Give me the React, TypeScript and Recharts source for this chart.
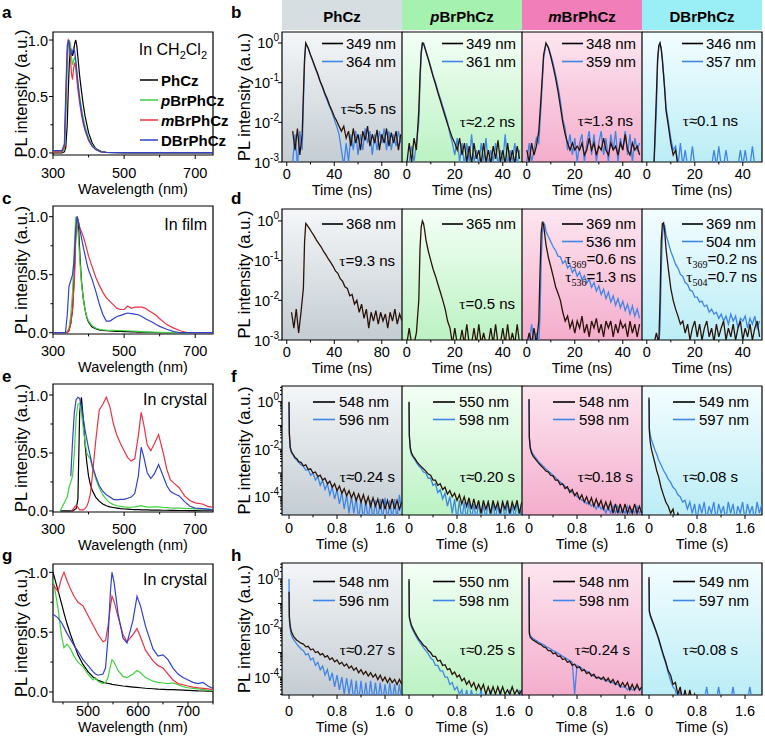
import React from 'react';
import { LineChart, Line, XAxis, YAxis, ReferenceArea } from 'recharts';

const SANS = '"Liberation Sans", Arial, Helvetica, sans-serif';
const SERIF = '"Liberation Serif", "Times New Roman", Times, serif';
const FS = 14.5;
const LFS = 15;
const YFS = 16.5;

// ---------------- categories / styles ----------------
const COMPOUNDS = ['PhCz', 'pBrPhCz', 'mBrPhCz', 'DBrPhCz'];
const SPEC_COLORS = ['#000000', '#3ed23e', '#eb3146', '#3242cc'];
const DECAY_BLACK = '#2a1308';
const DECAY_BLUE = '#3f86e6';
const HEADER_BG = ['#d7dee1', '#a5f1af', '#f17db9', '#9aeff7'];
const GRADS = [
  ['#f4f6f8', '#c4cdd3'],
  ['#f4fff6', '#bbf2c3'],
  ['#fde6f0', '#f4adcc'],
  ['#f3fdff', '#bbedf6'],
];

// ---------------- panel a (CH2Cl2) ----------------
const WL_A = [300, 325, 332, 336, 340, 343, 346, 349, 352, 355, 358, 361, 364, 367, 370, 375, 380, 385, 390, 400, 410, 420, 435, 450, 500, 600, 750];
const A_PHCZ = [0, 0, 0.01, 0.05, 0.25, 0.55, 0.8, 0.93, 0.9, 0.86, 0.9, 0.97, 1.0, 0.95, 0.85, 0.68, 0.55, 0.43, 0.33, 0.18, 0.09, 0.04, 0.015, 0.005, 0, 0, 0];
const A_PBR = [0.01, 0.01, 0.03, 0.3, 0.75, 0.95, 1.0, 0.97, 0.85, 0.78, 0.82, 0.85, 0.8, 0.72, 0.63, 0.5, 0.4, 0.31, 0.24, 0.13, 0.07, 0.035, 0.012, 0.005, 0.002, 0.002, 0.002];
const A_MBR = [0.01, 0.01, 0.05, 0.45, 0.88, 1.0, 0.98, 0.85, 0.7, 0.65, 0.75, 0.8, 0.75, 0.65, 0.56, 0.44, 0.34, 0.26, 0.2, 0.11, 0.06, 0.03, 0.01, 0.004, 0.002, 0.002, 0.002];
const A_DBR = [0.02, 0.02, 0.08, 0.55, 0.95, 1.0, 0.95, 0.88, 0.87, 0.9, 0.93, 0.9, 0.82, 0.72, 0.62, 0.48, 0.37, 0.28, 0.21, 0.12, 0.06, 0.03, 0.01, 0.004, 0.003, 0.003, 0.003];

// ---------------- panel c (film) ----------------
const WL_C = [300, 335, 340, 345, 350, 355, 360, 364, 368, 372, 376, 380, 385, 390, 395, 400, 410, 420, 430, 440, 450, 460, 470, 480, 490, 500, 510, 520, 530, 540, 550, 560, 570, 580, 590, 600, 620, 640, 660, 680, 700, 750];
const C_PHCZ = [0, 0, 0, 0.02, 0.08, 0.2, 0.5, 0.85, 1.0, 0.9, 0.65, 0.45, 0.3, 0.2, 0.13, 0.09, 0.05, 0.035, 0.025, 0.02, 0.017, 0.015, 0.013, 0.012, 0.011, 0.01, 0.009, 0.008, 0.007, 0.006, 0.005, 0.004, 0.003, 0.002, 0.002, 0.001, 0, 0, 0, 0, 0, 0];
const C_PBR = [0, 0, 0.01, 0.04, 0.15, 0.35, 0.75, 1.0, 0.95, 0.8, 0.6, 0.43, 0.3, 0.2, 0.14, 0.1, 0.06, 0.04, 0.03, 0.025, 0.022, 0.02, 0.02, 0.019, 0.018, 0.017, 0.016, 0.015, 0.014, 0.012, 0.01, 0.008, 0.006, 0.005, 0.004, 0.003, 0.002, 0.001, 0, 0, 0, 0];
const C_MBR = [0, 0, 0, 0.02, 0.08, 0.2, 0.45, 0.8, 1.0, 0.95, 0.9, 0.87, 0.83, 0.78, 0.72, 0.66, 0.57, 0.48, 0.41, 0.35, 0.3, 0.27, 0.24, 0.21, 0.2, 0.2, 0.23, 0.21, 0.22, 0.22, 0.22, 0.21, 0.19, 0.17, 0.15, 0.12, 0.07, 0.04, 0.015, 0, 0, 0];
const C_DBR = [0, 0, 0.15, 0.4, 0.45, 0.5, 0.65, 0.9, 1.0, 0.95, 0.88, 0.82, 0.74, 0.67, 0.6, 0.54, 0.46, 0.36, 0.25, 0.16, 0.1, 0.1, 0.12, 0.14, 0.15, 0.16, 0.17, 0.165, 0.16, 0.155, 0.14, 0.12, 0.105, 0.09, 0.07, 0.055, 0.03, 0.01, 0, 0, 0, 0];

// ---------------- panel e (crystal) ----------------
const WL_E = [320, 340, 345, 350, 355, 360, 365, 370, 375, 380, 385, 390, 395, 400, 405, 410, 420, 430, 440, 450, 460, 470, 480, 490, 500, 510, 520, 530, 540, 548, 555, 565, 575, 585, 597, 610, 620, 630, 640, 655, 670, 685, 700, 720, 735, 750];
const E_PHCZ = [0, 0, 0, 0, 0, 0.01, 0.02, 0.1, 0.85, 0.98, 0.8, 0.58, 0.42, 0.3, 0.23, 0.18, 0.12, 0.085, 0.06, 0.045, 0.035, 0.03, 0.025, 0.02, 0.017, 0.015, 0.013, 0.012, 0.011, 0.01, 0.01, 0.009, 0.008, 0.007, 0.007, 0.006, 0.006, 0.005, 0.005, 0.004, 0.004, 0.003, 0.003, 0.002, 0.002, 0.002];
const E_PBR = [0, 0.12, 0.2, 0.25, 0.3, 0.5, 0.8, 0.92, 0.93, 0.85, 0.72, 0.6, 0.5, 0.47, 0.45, 0.38, 0.28, 0.2, 0.14, 0.1, 0.07, 0.055, 0.045, 0.04, 0.035, 0.033, 0.032, 0.035, 0.04, 0.045, 0.04, 0.035, 0.033, 0.035, 0.035, 0.03, 0.028, 0.026, 0.025, 0.024, 0.022, 0.02, 0.018, 0.015, 0.013, 0.012];
const E_MBR = [null, null, null, 0, 0.01, 0.03, 0.05, 0.03, 0.01, 0.01, 0.01, 0.02, 0.04, 0.08, 0.15, 0.28, 0.6, 0.87, 0.92, 0.98, 0.9, 0.75, 0.65, 0.58, 0.52, 0.46, 0.43, 0.45, 0.65, 0.85, 0.75, 0.57, 0.52, 0.58, 0.66, 0.5, 0.36, 0.27, 0.24, 0.2, 0.13, 0.09, 0.07, 0.06, 0.04, 0.03];
const E_DBR = [null, null, null, 0.3, 0.6, 0.85, 0.96, 0.98, 0.97, 0.9, 0.8, 0.7, 0.62, 0.54, 0.47, 0.4, 0.3, 0.22, 0.17, 0.14, 0.12, 0.1, 0.095, 0.1, 0.1, 0.11, 0.12, 0.15, 0.3, 0.55, 0.47, 0.33, 0.28, 0.32, 0.4, 0.3, 0.22, 0.17, 0.15, 0.13, 0.08, 0.04, 0.025, 0.02, 0.015, 0.01];

// ---------------- panel g (crystal, long wavelength) ----------------
const WL_G = [430, 440, 447, 452, 458, 465, 472, 480, 490, 500, 510, 515, 520, 530, 535, 540, 545, 548, 552, 560, 570, 578, 590, 598, 605, 615, 630, 640, 650, 660, 670, 680, 690, 700, 710, 720, 730, 740, 750];
const G_PHCZ = [1.0, 0.85, 0.74, 0.66, 0.57, 0.48, 0.4, 0.31, 0.23, 0.17, 0.125, 0.11, 0.097, 0.082, 0.076, 0.071, 0.067, 0.064, 0.061, 0.056, 0.05, 0.046, 0.041, 0.038, 0.035, 0.031, 0.027, 0.024, 0.022, 0.02, 0.019, 0.017, 0.015, 0.013, 0.011, 0.009, 0.008, 0.007, 0.006];
const G_PBR = [0.95, 0.7, 0.47, 0.37, 0.4, 0.36, 0.3, 0.25, 0.21, 0.15, 0.1, 0.12, 0.09, 0.07, 0.08, 0.12, 0.22, 0.27, 0.25, 0.18, 0.13, 0.12, 0.15, 0.18, 0.16, 0.12, 0.09, 0.08, 0.075, 0.07, 0.075, 0.06, 0.045, 0.035, 0.03, 0.025, 0.02, 0.015, 0.015];
const G_MBR = [0.9, 0.84, 0.95, 1.0, 0.93, 0.86, 0.8, 0.75, 0.72, 0.64, 0.56, 0.52, 0.48, 0.42, 0.43, 0.55, 0.72, 0.8, 0.76, 0.63, 0.48, 0.42, 0.48, 0.53, 0.46, 0.35, 0.26, 0.22, 0.2, 0.15, 0.1, 0.07, 0.06, 0.05, 0.04, 0.035, 0.03, 0.025, 0.02];
const G_DBR = [0.65, 0.62, 0.58, 0.54, 0.49, 0.44, 0.39, 0.34, 0.27, 0.22, 0.17, 0.15, 0.14, 0.15, 0.2, 0.45, 0.85, 1.0, 0.92, 0.66, 0.45, 0.41, 0.6, 0.8, 0.72, 0.55, 0.36, 0.3, 0.31, 0.27, 0.2, 0.15, 0.12, 0.1, 0.08, 0.07, 0.08, 0.05, 0.03];

// ---------------- panel b (decay in CH2Cl2, ns) ----------------
const T_B1 = [5, 7, 9, 11, 13, 14, 15, 16, 18, 20, 22, 24, 26, 28, 30, 32, 34, 36, 38, 40, 42, 44, 46, 48, 50, 52, 54, 56, 58, 60, 62, 64, 66, 68, 70, 72, 74, 76, 78, 80, 82, 84, 86, 88, 90, 92, 94, 96];
const B1_K = [6e-3, 2e-3, 7e-3, 1.5e-3, 5e-3, 0.05, 0.4, 1.0, 0.75, 0.5, 0.35, 0.24, 0.17, 0.11, 0.08, 0.055, 0.04, 0.027, 0.02, 0.014, 0.011, 0.008, 6e-3, 8e-3, 4e-3, 6e-3, 2.5e-3, 7e-3, 3e-3, 5e-3, 2e-3, 6e-3, 3.5e-3, 8e-3, 2.5e-3, 5e-3, 3e-3, 6.5e-3, 2e-3, 5e-3, 3e-3, 7e-3, 2.5e-3, 5.5e-3, 3e-3, 6e-3, 2e-3, 5e-3];
const B1_B = [1e-3, 5e-3, 8e-4, 6e-3, 2e-3, 0.03, 0.35, 0.95, 0.75, 0.5, 0.34, 0.23, 0.16, 0.11, 0.075, 0.05, 0.036, 0.025, 0.018, 0.012, 0.008, 0.005, 2e-3, 8e-4, 3e-3, 1e-3, 5e-3, 2e-3, 6e-3, 1.5e-3, 5e-3, 2e-3, 7e-3, 3e-3, 6e-3, 1.5e-3, 5e-3, 2e-3, 6e-3, 3e-3, 7e-3, 2e-3, 6e-3, 2e-3, 5e-3, 2.5e-3, 6e-3, 3e-3];
const T_B2 = [0, 1, 2, 3, 4, 5, 5.5, 6, 6.5, 7, 8, 9, 10, 11, 12, 13, 14, 15, 16, 17, 18, 19, 20, 21, 22, 23, 24, 25, 26, 27, 28, 29, 30, 31, 32, 33, 34, 35, 36, 37, 38, 39, 40, 41, 42, 43, 44, 45, 46, 47];
const B2_K = [9e-4, 3e-3, 1e-3, 4e-3, 2e-3, 0.02, 0.15, 0.6, 1.0, 0.95, 0.6, 0.38, 0.23, 0.14, 0.09, 0.055, 0.035, 0.022, 0.014, 0.009, 6e-3, 4e-3, 3e-3, 2e-3, 4e-3, 1.5e-3, 3e-3, 1e-3, 2.5e-3, 9e-4, 3e-3, 1.2e-3, 2e-3, 9e-4, 3e-3, 1e-3, 2e-3, 9e-4, 2.5e-3, 1.2e-3, 3.5e-3, 1e-3, 2e-3, 9e-4, 3e-3, 1e-3, 2e-3, 9e-4, 2.5e-3, 1.2e-3];
const B2_B = [8e-4, 1e-3, 2.5e-3, 1e-3, 3e-3, 0.01, 0.1, 0.5, 0.95, 1.0, 0.62, 0.4, 0.25, 0.15, 0.1, 0.06, 0.04, 0.025, 0.016, 0.01, 5e-3, 3e-3, 1.5e-3, 4e-3, 1e-3, 3e-3, 8e-4, 3e-3, 1e-3, 5e-3, 1e-3, 2e-3, 8e-4, 3e-3, 1e-3, 4e-3, 8e-4, 2e-3, 1e-3, 3e-3, 8e-4, 2e-3, 1e-3, 5e-3, 8e-4, 2e-3, 1e-3, 3e-3, 8e-4, 2e-3];
const T_B3 = [0, 1, 2, 3, 4, 5, 6, 7, 8, 9, 10, 11, 12, 13, 14, 15, 16, 17, 18, 19, 20, 21, 22, 23, 24, 25, 26, 27, 28, 29, 30, 31, 32, 33, 34, 35, 36, 37, 38, 39, 40, 41, 42, 43, 44, 45, 46, 47];
const B3_K = [2e-3, 1e-3, 3e-3, 1.5e-3, 2.5e-3, 6e-3, 0.05, 0.5, 1.0, 0.75, 0.45, 0.25, 0.13, 0.06, 0.025, 0.01, 5e-3, 3e-3, 2e-3, 3e-3, 2e-3, 2.5e-3, 2e-3, 3e-3, 1.5e-3, 2e-3, 4e-3, 2e-3, 3e-3, 1.5e-3, 2.5e-3, 2e-3, 4e-3, 2e-3, 1.5e-3, 3e-3, 2e-3, 2.5e-3, 1.5e-3, 3e-3, 2e-3, 5e-3, 2e-3, 1.5e-3, 3e-3, 2e-3, 2.5e-3, 1.5e-3];
const B3_B = [1e-3, 3e-3, 1e-3, 2e-3, 4e-3, 3e-3, 0.03, 0.4, 0.95, 0.8, 0.5, 0.3, 0.16, 0.08, 0.035, 0.012, 7e-3, 2e-3, 5e-3, 1.5e-3, 4e-3, 1e-3, 3e-3, 5e-3, 1e-3, 3e-3, 6e-3, 1.5e-3, 5e-3, 1e-3, 3e-3, 6e-3, 1.5e-3, 4e-3, 1e-3, 5e-3, 2e-3, 6e-3, 1e-3, 4e-3, 2e-3, 6e-3, 1.5e-3, 5e-3, 1e-3, 4e-3, 2e-3, 3e-3];
const T_B4 = [0, 1, 2, 3, 4, 4.5, 5, 5.5, 6, 6.5, 7, 7.5, 8, 9, 10, 11, 12, 13, 14, 15, 16, 17, 18, 19, 20, 21, 22, 23, 24, 25, 26, 27, 28, 29, 30, 31, 32, 33, 34, 35, 36, 37, 38, 39, 40, 41, 42, 43, 44, 45, 46, 47];
const B4_K = [8e-4, 8e-4, 8e-4, 9e-4, 0.05, 0.4, 0.85, 1.0, 0.7, 0.35, 0.15, 0.06, 0.02, 8e-3, 3e-3, 1.5e-3, 2e-3, 8e-4];
const B4_B = [8e-4, 8e-4, 8e-4, 8e-4, 0.02, 0.3, 0.8, 0.98, 0.75, 0.4, 0.17, 0.07, 0.025, 0.01, 4e-3, 2e-3, 2.5e-3, 8e-4, 3e-3, 8e-4, 2e-3, 8e-4, 8e-4, 2.5e-3, 8e-4, 8e-4, 8e-4, 8e-4, 8e-4, 8e-4, 8e-4, 8e-4, 2e-3, 8e-4, 2.5e-3, 8e-4, 8e-4, 2e-3, 8e-4, 8e-4, 8e-4, 8e-4, 8e-4, 2e-3, 8e-4, 2e-3, 8e-4, 8e-4, 2.5e-3, 8e-4, 8e-4, 8e-4];

// ---------------- panel d (decay in film, ns) ----------------
const T_D1 = [4, 6, 8, 10, 12, 14, 15, 16, 17, 19, 21, 23, 25, 27, 29, 31, 33, 35, 37, 39, 41, 43, 45, 47, 49, 51, 53, 55, 57, 59, 61, 63, 65, 67, 69, 71, 73, 75, 77, 79, 81, 83, 85, 87, 89, 91, 93, 95, 97];
const D1_K = [5e-3, 2e-3, 6e-3, 1.5e-3, 5e-3, 0.02, 0.3, 0.87, 0.8, 0.65, 0.52, 0.42, 0.33, 0.27, 0.22, 0.17, 0.14, 0.11, 0.09, 0.072, 0.055, 0.048, 0.035, 0.03, 0.022, 0.02, 0.013, 0.014, 0.008, 0.01, 5e-3, 8e-3, 3.5e-3, 6e-3, 2e-3, 5e-3, 3e-3, 5.5e-3, 2.5e-3, 5e-3, 3e-3, 4.5e-3, 2e-3, 5e-3, 3e-3, 6e-3, 2.5e-3, 4.5e-3, 3e-3];
const T_D2 = [0, 1, 2, 3, 4, 5, 5.5, 6, 6.5, 7, 7.5, 8, 9, 10, 11, 12, 13, 14, 15, 16, 17, 18, 19, 20, 21, 22, 23, 24, 25, 26, 27, 28, 29, 30, 31, 32, 33, 34, 35, 36, 37, 38, 39, 40, 41, 42, 43, 44, 45, 46, 47];
const D2_K = [8e-4, 2e-3, 8e-4, 8e-4, 1.5e-3, 0.01, 0.2, 0.7, 1.0, 0.85, 0.55, 0.33, 0.17, 0.1, 0.06, 0.04, 0.025, 0.016, 0.01, 6e-3, 3e-3, 2e-3, 8e-4, 2e-3, 8e-4, 8e-4, 1.8e-3, 8e-4, 2.5e-3, 8e-4, 8e-4, 2e-3, 8e-4, 2.5e-3, 8e-4, 1.5e-3, 8e-4, 8e-4, 2e-3, 8e-4, 2.5e-3, 8e-4, 8e-4, 2e-3, 8e-4, 2.5e-3, 8e-4, 1.5e-3, 8e-4, 2.5e-3, 8e-4];
const D3_K = [8e-4, 1.5e-3, 8e-4, 2e-3, 8e-4, 3e-3, 0.05, 0.5, 0.95, 0.8, 0.45, 0.25, 0.12, 0.07, 0.04, 0.022, 0.015, 0.01, 5e-3, 3e-3, 4e-3, 2e-3, 3e-3, 1.5e-3, 3e-3, 2e-3, 4e-3, 1.5e-3, 2.5e-3, 1.2e-3, 3e-3, 2e-3, 3.5e-3, 1.5e-3, 2.5e-3, 1.2e-3, 3e-3, 2e-3, 3e-3, 1.2e-3, 2.5e-3, 1.5e-3, 3e-3, 2e-3, 2.5e-3, 1.2e-3, 3e-3, 1.5e-3, 2.5e-3, 1.2e-3, 2.5e-3];
const D3_B = [8e-4, 8e-4, 2.5e-3, 8e-4, 1.5e-3, 8e-4, 4e-3, 0.1, 0.5, 0.9, 0.8, 0.55, 0.4, 0.3, 0.22, 0.18, 0.13, 0.125, 0.085, 0.1, 0.065, 0.078, 0.05, 0.062, 0.04, 0.052, 0.033, 0.042, 0.027, 0.034, 0.021, 0.028, 0.017, 0.023, 0.014, 0.019, 0.011, 0.016, 0.009, 0.013, 0.0075, 0.011, 0.0065, 0.0095, 0.0055, 0.008, 0.0045, 0.0072, 0.004, 0.006, 0.0035];
const D4_K = [8e-4, 8e-4, 8e-4, 8e-4, 1.5e-3, 8e-4, 0.01, 0.3, 0.85, 0.9, 0.5, 0.2, 0.06, 0.02, 0.01, 6e-3, 4e-3, 2.5e-3, 3e-3, 1.5e-3, 2.5e-3, 1e-3, 2e-3, 3e-3, 1.2e-3, 2.5e-3, 1e-3, 2e-3, 3e-3, 1.2e-3, 2e-3, 9e-4, 2.5e-3, 1.2e-3, 2e-3, 3e-3, 1e-3, 2e-3, 1.2e-3, 2.5e-3, 1e-3, 2e-3, 3e-3, 1e-3, 2e-3, 1.2e-3, 2.5e-3, 1e-3, 2e-3, 3e-3, 1.2e-3];
const D4_B = [8e-4, 8e-4, 8e-4, 8e-4, 8e-4, 8e-4, 2e-3, 0.05, 0.4, 0.8, 0.75, 0.45, 0.28, 0.17, 0.12, 0.08, 0.065, 0.045, 0.04, 0.028, 0.025, 0.018, 0.017, 0.012, 0.012, 0.009, 0.0095, 0.007, 0.0075, 0.005, 0.006, 0.0045, 0.005, 0.0035, 0.0045, 0.003, 0.004, 0.0025, 0.0045, 0.003, 0.004, 0.002, 0.0035, 0.003, 0.004, 0.002, 0.0035, 0.0025, 0.004, 0.002, 0.003];

// ---------------- panels f / h (decay in crystal, s) ----------------
const T_S = [0, 0.005, 0.02, 0.04, 0.07, 0.1, 0.13, 0.16, 0.2, 0.24, 0.28, 0.32, 0.36, 0.4, 0.44, 0.48, 0.52, 0.56, 0.6, 0.64, 0.68, 0.72, 0.76, 0.8, 0.84, 0.88, 0.92, 0.96, 1.0, 1.04, 1.08, 1.12, 1.16, 1.2, 1.24, 1.28, 1.32, 1.36, 1.4, 1.44, 1.48, 1.52, 1.56, 1.6, 1.64, 1.68, 1.72, 1.76, 1.8, 1.84, 1.88];
const F1_K = [1.0, 0.05, 0.012, 0.008, 0.006, 0.0045, 0.004, 0.003, 2.8e-3, 2e-3, 2.2e-3, 1.4e-3, 1.5e-3, 1e-3, 1.1e-3, 7e-4, 8e-4, 5e-4, 6e-4, 3.5e-4, 4.5e-4, 2.5e-4, 3.5e-4, 1.8e-4, 2.8e-4, 1.4e-4, 2.2e-4, 1.1e-4, 1.8e-4, 9e-5, 1.5e-4, 7e-5, 1.3e-4, 6e-5, 1.2e-4, 5e-5, 1e-4, 4e-5, 9e-5, 4e-5, 8e-5, 3e-5, 8e-5, 3e-5, 7e-5, 3e-5, 8e-5, 3e-5, 7e-5, 3e-5, 6e-5];
const F1_B = [0.9, 0.04, 0.011, 0.007, 0.0055, 0.004, 0.0035, 0.0028, 2.2e-3, 1.9e-3, 1.3e-3, 1.4e-3, 8e-4, 1e-3, 5e-4, 7e-4, 3e-4, 5e-4, 2e-4, 3.5e-4, 1.2e-4, 2.5e-4, 8e-5, 2e-4, 5e-5, 1.5e-4, 3e-5, 1.2e-4, 2e-5, 1e-4, 2e-5, 9e-5, 1e-5, 8e-5, 1e-5, 7e-5, 1e-5, 7e-5, 1e-5, 7e-5, 1e-5, 8e-5, 1e-5, 9e-5, 1e-5, 7e-5, 1e-5, 8e-5, 1e-5, 1.2e-4, 2e-5];
const F2_K = [1.0, 0.04, 0.012, 0.007, 0.005, 0.004, 0.003, 0.0024, 1.9e-3, 1.5e-3, 1.2e-3, 9e-4, 8e-4, 5e-4, 5e-4, 3e-4, 3.5e-4, 2e-4, 2.5e-4, 1.3e-4, 1.8e-4, 1e-4, 1.4e-4, 7e-5, 1.2e-4, 5e-5, 1e-4, 4e-5, 9e-5, 3e-5, 8e-5, 3e-5, 7e-5, 2e-5, 7e-5, 3e-5, 6e-5, 2e-5, 7e-5, 3e-5, 6e-5, 2e-5, 6e-5, 3e-5, 7e-5, 2e-5, 6e-5, 3e-5, 7e-5, 2e-5, 6e-5];
const F2_B = [0.9, 0.035, 0.01, 0.006, 0.0045, 0.0035, 0.0026, 0.002, 1.6e-3, 1.1e-3, 1e-3, 6e-4, 6e-4, 3e-4, 3.5e-4, 1.5e-4, 2e-4, 8e-5, 1.4e-4, 4e-5, 1e-4, 2e-5, 8e-5, 1e-5, 7e-5, 1e-5, 6e-5, 1e-5, 7e-5, 1e-5, 5e-5, 1e-5, 6e-5, 1e-5, 5e-5, 1e-5, 7e-5, 1e-5, 6e-5, 1e-5, 5e-5, 1e-5, 7e-5, 1e-5, 6e-5, 1e-5, 5e-5, 1e-5, 7e-5, 1e-5, 6e-5];
const F3_K = [1.3, 0.03, 0.011, 0.007, 0.005, 0.004, 0.0032, 0.0026, 2e-3, 1.6e-3, 1.2e-3, 1.1e-3, 8e-4, 7.5e-4, 5e-4, 5e-4, 3.2e-4, 3.5e-4, 2.2e-4, 2.6e-4, 1.5e-4, 2e-4, 1.1e-4, 1.5e-4, 8e-5, 1.2e-4, 6e-5, 1e-4, 5e-5, 9e-5, 4e-5, 8e-5, 4e-5, 7e-5, 3e-5, 6e-5, 3e-5, 6e-5, 2e-5, 5e-5, 2e-5, 5e-5, 2e-5, 5e-5, 2e-5, 4e-5, 2e-5, 5e-5, 2e-5, 4e-5, 2e-5];
const F3_B = [1.2, 0.035, 0.013, 0.0085, 0.006, 0.0048, 0.0038, 0.003, 2.4e-3, 1.9e-3, 1.5e-3, 1.2e-3, 1e-3, 8e-4, 6.5e-4, 5e-4, 4.2e-4, 3.4e-4, 2.8e-4, 2.2e-4, 1.9e-4, 1.5e-4, 1.3e-4, 1e-4, 9e-5, 7e-5, 7e-5, 5e-5, 6e-5, 4e-5, 5e-5, 3e-5, 5e-5, 3e-5, 4e-5, 2e-5, 4e-5, 2e-5, 4e-5, 2e-5, 4e-5, 2e-5, 3e-5, 2e-5, 4e-5, 2e-5, 3e-5, 2e-5, 4e-5, 2e-5, 3e-5];
const F4_K = [1.5, 0.06, 0.02, 0.01, 0.005, 0.0025, 0.0012, 0.0007, 2.5e-4, 1.2e-4, 6e-5, 4e-5, 2e-5, 3e-5, 1e-5, 2e-5, 1e-5];
const F4_B = [1.2, 0.08, 0.04, 0.025, 0.015, 0.009, 0.006, 0.0035, 2.2e-3, 1.3e-3, 9e-4, 5.5e-4, 4e-4, 2.5e-4, 2e-4, 1.2e-4, 1e-4, 6e-5, 7e-5, 3e-5, 6e-5, 2e-5, 5e-5, 1e-5, 5e-5, 2e-5, 6e-5, 1e-5, 4e-5, 2e-5, 6e-5, 1e-5, 5e-5, 2e-5, 4e-5, 1e-5, 6e-5, 2e-5, 5e-5, 1e-5, 4e-5, 2e-5, 6e-5, 1e-5, 5e-5, 2e-5, 4e-5, 1e-5, 6e-5, 2e-5, 5e-5];
const H1_K = [0.3, 0.03, 0.012, 0.007, 0.0048, 0.0038, 0.0032, 0.0028, 2.4e-3, 2.2e-3, 1.7e-3, 1.8e-3, 1.3e-3, 1.4e-3, 1e-3, 1.1e-3, 8e-4, 9e-4, 6.5e-4, 7.5e-4, 5.2e-4, 6e-4, 4.2e-4, 5e-4, 3.4e-4, 4e-4, 2.8e-4, 3.4e-4, 2.3e-4, 2.8e-4, 1.9e-4, 2.4e-4, 1.5e-4, 2e-4, 1.3e-4, 1.7e-4, 1.1e-4, 1.5e-4, 1e-4, 1.3e-4, 8e-5, 1.2e-4, 7e-5, 1e-4, 6e-5, 9e-5, 6e-5, 8e-5, 5e-5, 8e-5, 5e-5];
const H1_B = [1.0, 0.02, 0.009, 0.005, 0.0035, 0.0028, 0.0022, 0.0018, 1.4e-3, 1.2e-3, 8e-4, 9e-4, 5e-4, 6e-4, 3e-4, 4e-4, 2e-4, 2.8e-4, 1.2e-4, 2e-4, 7e-5, 1.5e-4, 4e-5, 1.2e-4, 3e-5, 1e-4, 2e-5, 9e-5, 2e-5, 8e-5, 1e-5, 7e-5, 1e-5, 7e-5, 1e-5, 6e-5, 1e-5, 7e-5, 1e-5, 6e-5, 1e-5, 6e-5, 1e-5, 5e-5, 1e-5, 6e-5, 1e-5, 5e-5, 1e-5, 5e-5, 1e-5];
const H2_K = [1.0, 0.03, 0.02, 0.013, 0.009, 0.0065, 0.0048, 0.0036, 2.7e-3, 2e-3, 1.7e-3, 1.2e-3, 1e-3, 7e-4, 7e-4, 4.5e-4, 4.8e-4, 3e-4, 3.2e-4, 2e-4, 2.2e-4, 1.3e-4, 1.6e-4, 1e-4, 1.2e-4, 7e-5, 9e-5, 5e-5, 7e-5, 4e-5, 6e-5, 3e-5, 5e-5, 3e-5, 5e-5, 2e-5, 4e-5, 2e-5, 4e-5, 2e-5, 4e-5, 2e-5, 4e-5, 2e-5, 3e-5, 2e-5, 4e-5, 2e-5, 3e-5, 2e-5, 3e-5];
const H2_B = [0.8, 0.025, 0.017, 0.011, 0.0075, 0.0055, 0.004, 0.003, 2.2e-3, 1.6e-3, 1.2e-3, 9e-4, 6e-4, 5e-4, 3e-4, 3e-4, 1.8e-4, 1.8e-4, 1e-4, 1e-4, 5e-5, 6e-5, 3e-5, 4e-5, 2e-5, 3e-5, 1e-5, 3e-5, 1e-5, 3e-5, 1e-5, 2e-5, 1e-5, 3e-5, 1e-5, 2e-5, 1e-5, 3e-5, 1e-5, 2e-5, 1e-5, 3e-5, 1e-5, 2e-5, 1e-5, 3e-5, 1e-5, 2e-5, 1e-5, 3e-5, 1e-5];
const H3_K = [1.2, 0.006, 0.0042, 0.0037, 0.0032, 0.0029, 0.0026, 0.0023, 2.1e-3, 1.7e-3, 1.6e-3, 1.2e-3, 1.2e-3, 9e-4, 9.5e-4, 7e-4, 7.2e-4, 5.2e-4, 5.6e-4, 4e-4, 4.4e-4, 3e-4, 3.4e-4, 2.4e-4, 2.6e-4, 1.8e-4, 2e-4, 1.4e-4, 1.6e-4, 1.1e-4, 1.3e-4, 9e-5, 1e-4, 8e-5, 1e-4, 7e-5, 9e-5, 6e-5, 8e-5, 5e-5, 7e-5, 4e-5, 6e-5, 4e-5, 6e-5, 3e-5, 5e-5, 3e-5, 5e-5, 3e-5, 4e-5];
const H3_B = [1.0, 0.007, 0.005, 0.0043, 0.0037, 0.0033, 0.003, 0.0027, 2.4e-3, 2.1e-3, 1.8e-3, 1.6e-3, 1.4e-3, 1.2e-3, 1.1e-3, 9.5e-4, 8.2e-4, 7e-4, 6.2e-4, 5.3e-4, 4.7e-4, 4e-4, 2e-5, 3e-4, 2.7e-4, 2.3e-4, 2e-4, 1.7e-4, 1.5e-4, 1.3e-4, 1.1e-4, 1e-4, 9e-5, 9e-5, 8e-5, 7e-5, 7e-5, 6e-5, 6e-5, 5e-5, 5e-5, 4e-5, 4e-5, 4e-5, 3e-5, 4e-5, 3e-5, 3e-5, 4e-5, 3e-5, 3e-5];
const H4_K = [1.2, 0.05, 0.035, 0.025, 0.016, 0.01, 0.0062, 0.0038, 1.7e-3, 8e-4, 4e-4, 1.8e-4, 1.2e-4, 5e-5, 6e-5, 2e-5, 4e-5, 1e-5, 3e-5, 1e-5, 3e-5, 1e-5, 2e-5, 1e-5];
const H4_B = [1.0, 0.045, 0.03, 0.022, 0.014, 0.009, 0.0055, 0.0033, 1.5e-3, 7e-4, 3.5e-4, 1.5e-4, 7e-5, 4e-5, 3e-5, 1e-5, 3e-5, 1e-5, 2e-5, 1e-5, 1e-5, 1e-5, 1e-5, 1e-5, 1e-5, 1e-5, 1e-5, 4e-5, 1e-5, 1e-5, 1e-5, 1e-5, 4e-5, 1e-5, 1e-5, 1e-5, 1e-5, 1e-5, 4e-5, 1e-5, 1e-5, 1e-5, 1e-5, 1e-5, 1e-5, 4e-5, 1e-5, 1e-5, 1e-5, 1e-5, 1e-5];

// ---------------- labels ----------------
const LEG_B = [['349 nm', '364 nm'], ['349 nm', '361 nm'], ['348 nm', '359 nm'], ['346 nm', '357 nm']];
const LEG_D = [['368 nm'], ['365 nm'], ['369 nm', '536 nm'], ['369 nm', '504 nm']];
const LEG_F = [['548 nm', '596 nm'], ['550 nm', '598 nm'], ['548 nm', '598 nm'], ['549 nm', '597 nm']];
const LEG_H = [['548 nm', '596 nm'], ['550 nm', '598 nm'], ['548 nm', '598 nm'], ['549 nm', '597 nm']];
const TAU_B = ['≈5.5 ns', '≈2.2 ns', '≈1.3 ns', '≈0.1 ns'];
const TAU_F = ['≈0.24 s', '≈0.20 s', '≈0.18 s', '≈0.08 s'];
const TAU_H = ['≈0.27 s', '≈0.25 s', '≈0.24 s', '≈0.08 s'];

// ---------------- layout ----------------
const SUB_LEFT = [282, 402, 522, 642];
const SUB_W = 120;
const NS1_DOMAIN = [-4, 97];
const NS_DOMAIN = [-2, 48];
const S_DOMAIN = [-0.117, 1.883];

function rowsOf(xs, cols) {
  return xs.map((x, i) => {
    const r = { x };
    Object.keys(cols).forEach((k) => {
      const arr = cols[k];
      const v = arr ? arr[i] : undefined;
      r[k] = v === undefined ? null : v;
    });
    return r;
  });
}

const near = (list, v) => list.some((l) => Math.abs(l - v) <= Math.abs(l) * 1e-6 + 1e-9);

const makeXTick = (labeled, dy, len) => (p) => {
  const v = p.payload.value;
  const major = near(labeled, v);
  return (
    <g>
      <line x1={p.x} x2={p.x} y1={p.y} y2={p.y + (major ? len : len * 0.6)} stroke="#000" strokeWidth={1} />
      {major && (
        <text x={p.x} y={p.y + dy} textAnchor="middle" fontSize={FS} fill="#000">
          {String(v)}
        </text>
      )}
    </g>
  );
};

const makeYTickLin = (labeled) => (p) => {
  const v = p.payload.value;
  const major = near(labeled, v);
  return (
    <g>
      <line x1={p.x - (major ? 4 : 2.5)} x2={p.x} y1={p.y} y2={p.y} stroke="#000" strokeWidth={1} />
      {major && (
        <text x={p.x - 5} y={p.y + 5.5} textAnchor="end" fontSize={FS} fill="#000">
          {v.toFixed(1)}
        </text>
      )}
    </g>
  );
};

const makeYTickLog = (labeled) => (p) => {
  const v = p.payload.value;
  const lg = Math.log10(v);
  const e = Math.round(lg);
  const decade = Math.abs(lg - e) < 1e-6;
  const lab = near(labeled, v);
  return (
    <g>
      <line x1={p.x - (decade ? 4 : 2)} x2={p.x} y1={p.y} y2={p.y} stroke="#000" strokeWidth={1} />
      {lab && (
        <text x={p.x - 3} y={p.y + 5.5} textAnchor="end" fontSize={FS} fill="#000">
          10
          <tspan dy={-7} fontSize={10}>{String(e)}</tspan>
        </text>
      )}
    </g>
  );
};

function SpecChart({ cfg }) {
  const { x0, y0, w, h, xDomain, yDomain, xTicks, xLabeled, wl, ys, labelDy, titleDy } = cfg;
  const MT = 3;
  const MR = 3;
  const XH = 46;
  const rows = rowsOf(wl, { s0: ys[0], s1: ys[1], s2: ys[2], s3: ys[3] });
  return (
    <div style={{ position: 'absolute', left: 0, top: y0 - MT }}>
      <LineChart width={x0 + w + MR} height={MT + h + XH} data={rows} margin={{ top: MT, right: MR, left: 0, bottom: 0 }}>
        <ReferenceArea x1={xDomain[0]} x2={xDomain[1]} y1={yDomain[0]} y2={yDomain[1]} fill="#ffffff" fillOpacity={1} stroke="#000" strokeWidth={1.2} ifOverflow="visible" />
        <XAxis
          dataKey="x"
          type="number"
          domain={xDomain}
          allowDataOverflow
          ticks={xTicks}
          interval={0}
          height={XH}
          axisLine={false}
          tickLine={false}
          tickSize={0}
          tickMargin={0}
          tick={makeXTick(xLabeled, labelDy, 4)}
          label={{ value: 'Wavelength (nm)', position: 'insideBottom', offset: XH - titleDy, fill: '#000', fontSize: FS }}
        />
        <YAxis
          type="number"
          domain={yDomain}
          allowDataOverflow
          ticks={[0, 0.25, 0.5, 0.75, 1.0]}
          interval={0}
          width={x0}
          axisLine={false}
          tickLine={false}
          tickSize={0}
          tickMargin={0}
          tick={makeYTickLin([0, 0.5, 1.0])}
          label={{ value: 'PL intensity (a.u.)', angle: -90, position: 'insideLeft', offset: 21, fill: '#000', fontSize: YFS, style: { textAnchor: 'middle' } }}
        />
        {ys.map((_, i) => (
          <Line key={i} dataKey={'s' + i} type="linear" stroke={SPEC_COLORS[i]} strokeWidth={1.2} dot={false} isAnimationActive={false} connectNulls={false} />
        ))}
      </LineChart>
    </div>
  );
}

function DecayChart({ idx, row, t, k, b, xDomain, xTicks, xLabeled }) {
  const left = SUB_LEFT[idx];
  const showY = idx === 0;
  const YW = showY ? left - 230 : 0;
  const MT = 3;
  const MR = 2;
  const XH = 46;
  const rows = rowsOf(t, { k, b });
  return (
    <div style={{ position: 'absolute', left: left - YW, top: row.top - MT }}>
      <LineChart width={YW + SUB_W + MR} height={MT + row.h + XH} data={rows} margin={{ top: MT, right: MR, left: 0, bottom: 0 }}>
        <ReferenceArea x1={xDomain[0]} x2={xDomain[1]} y1={row.yDomain[0]} y2={row.yDomain[1]} fill={`url(#pg${idx})`} fillOpacity={1} stroke="#000" strokeWidth={1.2} ifOverflow="visible" />
        <XAxis
          dataKey="x"
          type="number"
          domain={xDomain}
          allowDataOverflow
          ticks={xTicks}
          interval={0}
          height={XH}
          axisLine={false}
          tickLine={false}
          tickSize={0}
          tickMargin={0}
          tick={makeXTick(xLabeled, row.labelDy, row.tickLen)}
          label={{ value: row.xTitle, position: 'insideBottom', offset: XH - row.titleDy, fill: '#000', fontSize: FS }}
        />
        <YAxis
          type="number"
          scale="log"
          domain={row.yDomain}
          allowDataOverflow
          hide={!showY}
          ticks={row.yTicks}
          interval={0}
          width={YW}
          axisLine={false}
          tickLine={false}
          tickSize={0}
          tickMargin={0}
          tick={makeYTickLog(row.yLabeled)}
          label={showY ? { value: 'PL intensity (a.u.)', angle: -90, position: 'insideLeft', offset: 14, fill: '#000', fontSize: YFS, style: { textAnchor: 'middle' } } : undefined}
        />
        {b && <Line dataKey="b" type="linear" stroke={DECAY_BLUE} strokeWidth={1.3} dot={false} isAnimationActive={false} connectNulls={false} />}
        {k && <Line dataKey="k" type="linear" stroke={DECAY_BLACK} strokeWidth={1.3} dot={false} isAnimationActive={false} connectNulls={false} />}
      </LineChart>
    </div>
  );
}

const logTicks = (minExp, maxVal) => {
  const out = [];
  for (let e = minExp; e <= 0; e++) {
    for (let m = 1; m <= 9; m++) {
      const v = m * Math.pow(10, e);
      if (v <= maxVal) out.push(Number(v.toPrecision(3)));
    }
  }
  return out;
};

const ROW_B = { top: 32, h: 130, yDomain: [1e-3, 1.89], yTicks: [1e-3, 1e-2, 1e-1, 1], yLabeled: [1e-3, 1e-2, 1e-1, 1], labelDy: 17, titleDy: 33, tickLen: 4, xTitle: 'Time (ns)' };
const ROW_D = { top: 209, h: 131, yDomain: [1e-3, 2.0], yTicks: [1e-3, 1e-2, 1e-1, 1], yLabeled: [1e-3, 1e-2, 1e-1, 1], labelDy: 17, titleDy: 33, tickLen: 4, xTitle: 'Time (ns)' };
const ROW_F = { top: 386, h: 129, yDomain: [1.7e-5, 4.57], yTicks: logTicks(-5, 4.5).filter((v) => v >= 1.7e-5), yLabeled: [1e-4, 1e-2, 1], labelDy: 18, titleDy: 34, tickLen: 4, xTitle: 'Time (s)' };
const ROW_H = { top: 563, h: 132, yDomain: [1.86e-5, 4.47], yTicks: logTicks(-5, 4.4).filter((v) => v >= 1.86e-5), yLabeled: [1e-4, 1e-2, 1], labelDy: 21, titleDy: 37, tickLen: 4, xTitle: 'Time (s)' };

const SPEC_CFG = [
  { x0: 53, y0: 32, w: 160, h: 123, xDomain: [300, 750], yDomain: [-0.018, 1.071], xTicks: [300, 400, 500, 600, 700], xLabeled: [300, 500, 700], wl: WL_A, ys: [A_PHCZ, A_PBR, A_MBR, A_DBR], labelDy: 23, titleDy: 39 },
  { x0: 53, y0: 206, w: 160, h: 128, xDomain: [300, 750], yDomain: [-0.011, 1.092], xTicks: [300, 400, 500, 600, 700], xLabeled: [300, 500, 700], wl: WL_C, ys: [C_PHCZ, C_PBR, C_MBR, C_DBR], labelDy: 22, titleDy: 38 },
  { x0: 53, y0: 384, w: 160, h: 128, xDomain: [300, 750], yDomain: [-0.009, 1.095], xTicks: [300, 400, 500, 600, 700], xLabeled: [300, 500, 700], wl: WL_E, ys: [E_PHCZ, E_PBR, E_MBR, E_DBR], labelDy: 22, titleDy: 38 },
  { x0: 53, y0: 564, w: 160, h: 138, xDomain: [430, 750], yDomain: [-0.084, 1.07], xTicks: [450, 500, 550, 600, 650, 700, 750], xLabeled: [500, 600, 700], wl: WL_G, ys: [G_PHCZ, G_PBR, G_MBR, G_DBR], labelDy: 14, titleDy: 30 },
];

const NS1 = { xDomain: NS1_DOMAIN, xTicks: [0, 20, 40, 60, 80], xLabeled: [0, 40, 80] };
const NSX = { xDomain: NS_DOMAIN, xTicks: [0, 10, 20, 30, 40], xLabeled: [0, 20, 40] };
const SX = { xDomain: S_DOMAIN, xTicks: [0, 0.4, 0.8, 1.2, 1.6], xLabeled: [0, 0.8, 1.6] };

const DECAYS = [
  { idx: 0, row: ROW_B, t: T_B1, k: B1_K, b: B1_B, ...NS1 },
  { idx: 1, row: ROW_B, t: T_B2, k: B2_K, b: B2_B, ...NSX },
  { idx: 2, row: ROW_B, t: T_B3, k: B3_K, b: B3_B, ...NSX },
  { idx: 3, row: ROW_B, t: T_B4, k: B4_K, b: B4_B, ...NSX },
  { idx: 0, row: ROW_D, t: T_D1, k: D1_K, b: null, ...NS1 },
  { idx: 1, row: ROW_D, t: T_D2, k: D2_K, b: null, ...NSX },
  { idx: 2, row: ROW_D, t: T_D2, k: D3_K, b: D3_B, ...NSX },
  { idx: 3, row: ROW_D, t: T_D2, k: D4_K, b: D4_B, ...NSX },
  { idx: 0, row: ROW_F, t: T_S, k: F1_K, b: F1_B, ...SX },
  { idx: 1, row: ROW_F, t: T_S, k: F2_K, b: F2_B, ...SX },
  { idx: 2, row: ROW_F, t: T_S, k: F3_K, b: F3_B, ...SX },
  { idx: 3, row: ROW_F, t: T_S, k: F4_K, b: F4_B, ...SX },
  { idx: 0, row: ROW_H, t: T_S, k: H1_K, b: H1_B, ...SX },
  { idx: 1, row: ROW_H, t: T_S, k: H2_K, b: H2_B, ...SX },
  { idx: 2, row: ROW_H, t: T_S, k: H3_K, b: H3_B, ...SX },
  { idx: 3, row: ROW_H, t: T_S, k: H4_K, b: H4_B, ...SX },
];

function compoundText(i) {
  const n = COMPOUNDS[i];
  if (i === 1 || i === 2) {
    return (
      <>
        <tspan fontStyle="italic">{n[0]}</tspan>
        {n.slice(1)}
      </>
    );
  }
  return n;
}

function Tau({ x, y, text, sub }) {
  return (
    <text x={x} y={y} textAnchor="end" fontSize={LFS} fill="#000">
      <tspan fontFamily={SERIF}>τ</tspan>
      {sub ? (
        <>
          <tspan fontFamily={SERIF} fontSize={10} dy={4}>{sub}</tspan>
          <tspan dy={-4}>{text}</tspan>
        </>
      ) : (
        text
      )}
    </text>
  );
}

function DecayLegend({ right, y0, dy, items, lineGap, lineLen }) {
  return (
    <g>
      {items.map((txt, j) => {
        const y = y0 + j * dy;
        const x2 = right - lineGap;
        return (
          <g key={j}>
            <line x1={x2 - lineLen} x2={x2} y1={y - 5} y2={y - 5} stroke={j === 0 ? '#000' : DECAY_BLUE} strokeWidth={1.6} />
            <text x={right} y={y} textAnchor="end" fontSize={LFS} fill="#000">{txt}</text>
          </g>
        );
      })}
    </g>
  );
}

export default function App() {
  const letters = [['a', 2, 18], ['b', 231, 18], ['c', 2, 204], ['d', 231, 204], ['e', 2, 382], ['f', 231, 382], ['g', 2, 561], ['h', 231, 561]];
  const insideLabels = [
    { y: 55, node: (<>In CH<tspan fontSize={11} dy={4}>2</tspan><tspan dy={-4}>Cl</tspan><tspan fontSize={11} dy={4}>2</tspan></>) },
    { y: 230, node: 'In film' },
    { y: 405, node: 'In crystal' },
    { y: 585, node: 'In crystal' },
  ];
  return (
    <div style={{ position: 'absolute', left: 0, top: 0, width: 765, height: 739, background: '#fff', fontFamily: SANS, overflow: 'hidden' }}>
      <svg width={0} height={0} style={{ position: 'absolute' }}>
        <defs>
          {GRADS.map((g, i) => (
            <linearGradient id={`pg${i}`} key={i} x1="0" y1="0" x2="0" y2="1">
              <stop offset="0%" stopColor={g[0]} />
              <stop offset="100%" stopColor={g[1]} />
            </linearGradient>
          ))}
        </defs>
      </svg>

      {SPEC_CFG.map((c, i) => (
        <SpecChart key={'s' + i} cfg={c} />
      ))}
      {DECAYS.map((d, i) => (
        <DecayChart key={'d' + i} {...d} />
      ))}

      <svg width={765} height={739} style={{ position: 'absolute', left: 0, top: 0, pointerEvents: 'none', fontFamily: SANS }}>
        {letters.map(([l, x, y]) => (
          <text key={l} x={x} y={y} fontSize={17} fontWeight="bold" fill="#000">{l}</text>
        ))}
        {SUB_LEFT.map((x, i) => (
          <g key={'h' + i}>
            <rect x={x} y={0} width={SUB_W} height={30} fill={HEADER_BG[i]} />
            <text x={x + SUB_W / 2} y={22} textAnchor="middle" fontWeight="bold" fontSize={LFS} fill="#000">{compoundText(i)}</text>
          </g>
        ))}

        {/* panel a legend */}
        {COMPOUNDS.map((_, i) => (
          <g key={'la' + i}>
            <line x1={140} x2={158} y1={80 + i * 20} y2={80 + i * 20} stroke={SPEC_COLORS[i]} strokeWidth={1.5} />
            <text x={161} y={85.5 + i * 20} fontWeight="bold" fontSize={LFS} fill="#000">{compoundText(i)}</text>
          </g>
        ))}
        {insideLabels.map((l, i) => (
          <text key={'in' + i} x={207} y={l.y} textAnchor="end" fontSize={16} fill="#000">{l.node}</text>
        ))}

        {/* row b */}
        {LEG_B.map((items, i) => (
          <DecayLegend key={'lb' + i} right={SUB_LEFT[i] + SUB_W - 6} y0={48.5} dy={18} items={items} lineGap={53} lineLen={21} />
        ))}
        <Tau x={396} y={113.5} text={TAU_B[0]} />
        <Tau x={515} y={127} text={TAU_B[1]} />
        <Tau x={633} y={125.5} text={TAU_B[2]} />
        <Tau x={738} y={125.5} text={TAU_B[3]} />

        {/* row d */}
        {LEG_D.map((items, i) => (
          <DecayLegend key={'ld' + i} right={SUB_LEFT[i] + SUB_W - 6} y0={229} dy={17.5} items={items} lineGap={53} lineLen={21} />
        ))}
        <Tau x={395} y={265.5} text="=9.3 ns" />
        <Tau x={515} y={308.5} text="=0.5 ns" />
        <Tau x={636} y={263.5} sub="369" text="=0.6 ns" />
        <Tau x={636} y={281.5} sub="536" text="=1.3 ns" />
        <Tau x={757} y={263.5} sub="369" text="=0.2 ns" />
        <Tau x={757} y={281.5} sub="504" text="=0.7 ns" />

        {/* row f */}
        {LEG_F.map((items, i) => (
          <DecayLegend key={'lf' + i} right={SUB_LEFT[i] + SUB_W - 13} y0={407} dy={17.5} items={items} lineGap={54} lineLen={22} />
        ))}
        {[395, 515, 633, 738].map((x, i) => (
          <Tau key={'tf' + i} x={x} y={481.5} text={TAU_F[i]} />
        ))}

        {/* row h */}
        {LEG_H.map((items, i) => (
          <DecayLegend key={'lh' + i} right={SUB_LEFT[i] + SUB_W - 13} y0={586.5} dy={19} items={items} lineGap={54} lineLen={22} />
        ))}
        {[395, 515, 630, 738].map((x, i) => (
          <Tau key={'th' + i} x={x} y={654.5} text={TAU_H[i]} />
        ))}
      </svg>
    </div>
  );
}
